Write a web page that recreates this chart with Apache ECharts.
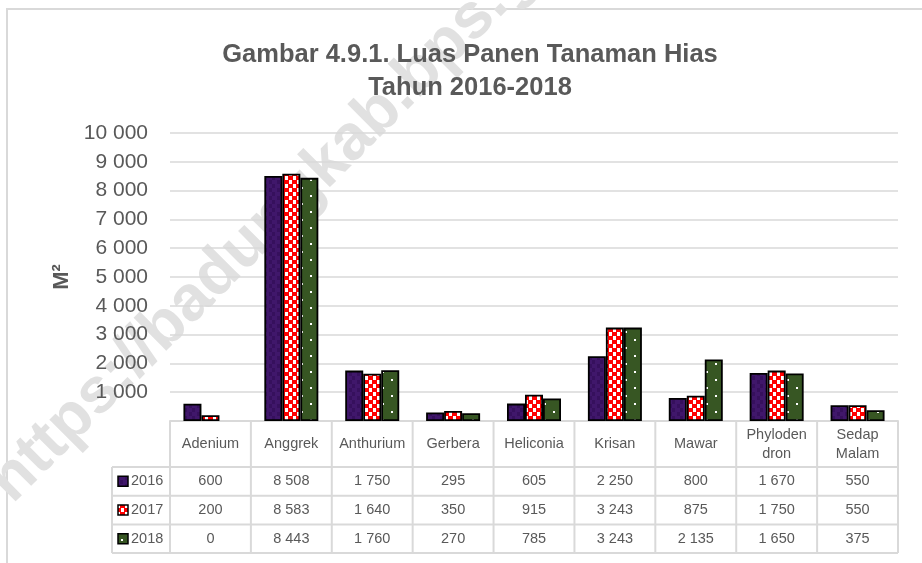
<!DOCTYPE html>
<html>
<head>
<meta charset="utf-8">
<script src="https://cdn.jsdelivr.net/npm/echarts@6/dist/echarts.min.js"></script>
<style>
  html, body { margin: 0; padding: 0; background: #fff; }
  #charts { width: 922px; height: 563px; }
</style>
</head>
<body>
<div id="charts"></div>
<script>
// data
var categories = ["Adenium", "Anggrek", "Anthurium", "Gerbera", "Heliconia", "Krisan", "Mawar", "Phyloden\ndron", "Sedap\nMalam"];
var years = ["2016", "2017", "2018"];
var data2016 = [600, 8508, 1750, 295, 605, 2250, 800, 1670, 550];
var data2017 = [200, 8583, 1640, 350, 915, 3243, 875, 1750, 550];
var data2018 = [0, 8443, 1760, 270, 785, 3243, 2135, 1650, 375];
var yMax = 10000;
var yStep = 1000;

var FONT = "'Liberation Sans', Arial, sans-serif";
var GREY = "#595959";
var LINE = "#d9d9d9";

function fmt(n) {
    return String(n).replace(/\B(?=(\d{3})+(?!\d))/g, " ");
}

function makePattern(w, h, draw) {
    var c = document.createElement("canvas");
    c.width = w;
    c.height = h;
    draw(c.getContext("2d"));
    return { image: c, repeat: "repeat" };
}

// purple, slightly mottled
var purpleFill = makePattern(8, 8, function (ctx) {
    ctx.fillStyle = "#40176b";
    ctx.fillRect(0, 0, 8, 8);
    ctx.fillStyle = "#36105d";
    ctx.fillRect(0, 0, 3, 4);
    ctx.fillRect(5, 4, 3, 4);
});
// red / white checkers
var checkFill = makePattern(8, 8, function (ctx) {
    ctx.fillStyle = "#ffffff";
    ctx.fillRect(0, 0, 8, 8);
    ctx.fillStyle = "#ff0000";
    ctx.fillRect(0, 0, 5, 4);
    ctx.fillRect(4, 4, 4, 4);
    ctx.fillRect(0, 4, 1, 4);
});
// dark green with small white dots
var dotFill = makePattern(18, 16, function (ctx) {
    ctx.fillStyle = "#375623";
    ctx.fillRect(0, 0, 18, 16);
    ctx.fillStyle = "#ffffff";
    ctx.fillRect(4, 3, 2, 2);
    ctx.fillRect(13, 11, 2, 2);
});
var fills = [purpleFill, checkFill, dotFill];
var seriesData = [data2016, data2017, data2018];

var charts = echarts.init(document.getElementById("charts"));

var gridLeft = 170, gridRight = 24, gridTop = 133, gridBottom = 142;

var series = [];
for (var i = 0; i < years.length; i++) {
    series.push({
        name: years[i],
        type: "bar",
        barWidth: 18,
        barGap: "0%",
        itemStyle: {
            color: fills[i],
            borderColor: "#000000",
            borderWidth: 1.8,
        },
        // an empty value gets no outline
        data: seriesData[i].map(function (v) {
            return v === 0 ? { value: v, itemStyle: { borderWidth: 0 } } : v;
        }),
        z: 2,
    });
}

var option = {
    animation: false,
    title: {
        text: "Gambar 4.9.1. Luas Panen Tanaman Hias\nTahun 2016-2018",
        left: 465,
        textAlign: "center",
        top: 33,
        textStyle: {
            color: GREY,
            fontFamily: FONT,
            fontSize: 25.5,
            fontWeight: "bold",
            lineHeight: 33,
        },
    },
    grid: {
        left: gridLeft,
        right: gridRight,
        top: gridTop,
        bottom: gridBottom,
        containLabel: false,
    },
    xAxis: {
        type: "category",
        data: categories,
        axisLine: { show: true, lineStyle: { color: LINE, width: 2 } },
        axisTick: { show: false },
        axisLabel: { show: false },
    },
    yAxis: {
        type: "value",
        min: 0,
        max: yMax,
        interval: yStep,
        name: "M²",
        nameLocation: "middle",
        nameGap: 95,
        nameRotate: 90,
        nameTextStyle: {
            color: GREY,
            fontFamily: FONT,
            fontSize: 22,
            fontWeight: "bold",
        },
        axisLine: { show: false },
        axisTick: { show: false },
        splitLine: { lineStyle: { color: LINE, width: 1.5 } },
        axisLabel: {
            color: GREY,
            fontFamily: FONT,
            fontSize: 21,
            margin: 22,
            formatter: function (v) { return v === 0 ? "" : fmt(v); },
        },
    },
    series: series,
};

charts.setOption(option);

// data table under the plot, columns placed from the category axis
var plotBottom = 563 - gridBottom;
var headerH = 46;
var rowH = 28.7;
var legendLeft = 112;
var centers = categories.map(function (c) {
    return charts.convertToPixel({ xAxisIndex: 0 }, c);
});
var colW = centers.length > 1 ? centers[1] - centers[0] : 80;
var tableLeft = centers[0] - colW / 2;
var tableRight = centers[centers.length - 1] + colW / 2;
var tableBottom = plotBottom + headerH + rowH * years.length;
var cellFont = "14.5px " + FONT;

var els = [];
// outer chart frame
els.push({
    type: "rect",
    shape: { x: 7, y: 9, width: 1000, height: 700 },
    style: { fill: "none", stroke: LINE, lineWidth: 2 },
    z: -2,
});
// watermark
els.push({
    type: "text",
    x: 0,
    y: 492,
    rotation: Math.PI / 4,
    style: {
        text: "https://badungkab.bps.go.id",
        font: "bold 64px " + FONT,
        fill: "#e1e1e1",
        textAlign: "left",
        textVerticalAlign: "middle",
    },
    z: -1,
});
// vertical lines
for (var k = 0; k <= centers.length; k++) {
    var xv = tableLeft + k * colW;
    els.push({
        type: "line",
        shape: { x1: xv, y1: plotBottom, x2: xv, y2: tableBottom },
        style: { stroke: LINE, lineWidth: 2 },
    });
}
els.push({
    type: "line",
    shape: { x1: legendLeft, y1: plotBottom + headerH, x2: legendLeft, y2: tableBottom },
    style: { stroke: LINE, lineWidth: 2 },
});
// horizontal lines
for (var r = 0; r <= years.length; r++) {
    var yh = plotBottom + headerH + r * rowH;
    els.push({
        type: "line",
        shape: { x1: legendLeft, y1: yh, x2: tableRight, y2: yh },
        style: { stroke: LINE, lineWidth: 2 },
    });
}
// header texts
centers.forEach(function (cx, j) {
    els.push({
        type: "text",
        x: cx,
        y: plotBottom + headerH / 2,
        style: {
            text: categories[j],
            font: cellFont,
            fill: GREY,
            textAlign: "center",
            textVerticalAlign: "middle",
            lineHeight: 19,
        },
    });
});
// rows
years.forEach(function (yr, r) {
    var cy = plotBottom + headerH + r * rowH + rowH / 2;
    els.push({
        type: "rect",
        shape: { x: 118, y: cy - 5, width: 10, height: 10 },
        style: { fill: fills[r], stroke: "#000", lineWidth: 1.5 },
    });
    els.push({
        type: "text",
        x: 131,
        y: cy,
        style: {
            text: yr,
            font: cellFont,
            fill: GREY,
            textAlign: "left",
            textVerticalAlign: "middle",
        },
    });
    seriesData[r].forEach(function (v, j) {
        els.push({
            type: "text",
            x: centers[j],
            y: cy,
            style: {
                text: fmt(v),
                font: cellFont,
                fill: GREY,
                textAlign: "center",
                textVerticalAlign: "middle",
            },
        });
    });
});

charts.setOption({ graphic: { elements: els } });
</script>
</body>
</html>
